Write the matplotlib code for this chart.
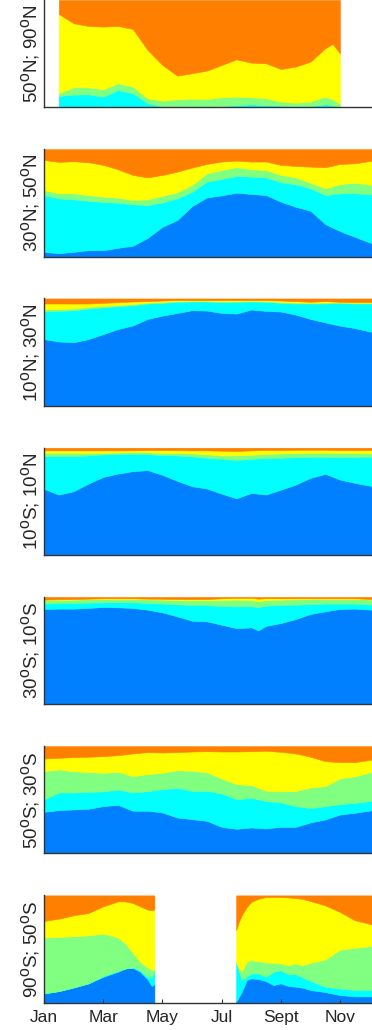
import numpy as np
import matplotlib
matplotlib.use("Agg")
import matplotlib.pyplot as plt

try:
    import matplotlib._mathtext as _mt
    _mt.SHRINK_FACTOR = 0.85  # larger superscript "o" as in the original
except Exception:
    pass

plt.rcParams['font.family'] = ['Liberation Sans', 'DejaVu Sans']
plt.rcParams['mathtext.fontset'] = 'custom'
plt.rcParams['mathtext.rm'] = 'Liberation Sans'
plt.rcParams['mathtext.it'] = 'Liberation Sans'

# ---------------- data (percent share of each class, stacked bottom->top) ----
MONTH_TICKS = [1, 3, 5, 7, 9, 11]
MONTH_LABELS = ['Jan', 'Mar', 'May', 'Jul', 'Sept', 'Nov']
CLASS_COLORS = ['#0080ff', '#00ffff', '#80ff80', '#ffff00', '#ff8000']
BAND_LABELS = [r'50$^{\rm o}$N; 90$^{\rm o}$N',
               r'30$^{\rm o}$N; 50$^{\rm o}$N',
               r'10$^{\rm o}$N; 30$^{\rm o}$N',
               r'10$^{\rm o}$S; 10$^{\rm o}$N',
               r'30$^{\rm o}$S; 10$^{\rm o}$S',
               r'50$^{\rm o}$S; 30$^{\rm o}$S',
               r'90$^{\rm o}$S; 50$^{\rm o}$S']

# 50N-90N
x_p1 = [1.5, 2, 2.5, 3, 3.5, 4, 4.5, 5, 5.5, 6, 6.5, 7, 7.5, 8, 8.5, 9, 9.5, 10, 10.5, 10.75, 11]
blue_p1 = [0, 0, 0, 0, 0, 0, 0, 0, 0, 0, 0, 0, 0, 0, 0, 0, 0, 0, 0, 0, 0]
cyan_p1 = [10.6, 11.8, 12.1, 9.9, 16.1, 13.0, 3.7, 0.9, 0.6, 0.6, 0.6, 1.2, 1.9, 2.8, 1.9, 1.6, 1.2, 1.2, 2.8, 1.9, 0.6]
green_p1 = [2.4, 6.8, 6.5, 6.9, 6.3, 6.3, 4.7, 5.3, 6.9, 7.5, 7.2, 8.1, 8.0, 6.5, 6.5, 3.7, 3.1, 4.1, 7.1, 5.6, 2.5]
yellow_p1 = [74.0, 59.7, 57.2, 58.4, 53.4, 53.7, 45.0, 33.2, 22.0, 23.6, 26.4, 30.1, 34.8, 32.3, 32.6, 30.4, 33.6, 37.2, 45.1, 51.5, 47.2]
orange_p1 = [13.0, 21.7, 24.2, 24.8, 24.2, 27.0, 46.6, 60.6, 70.5, 68.3, 65.8, 60.6, 55.3, 58.4, 59.0, 64.3, 62.1, 57.5, 45.0, 41.0, 49.7]

# common half-month grid (last reading at right edge of view)
x_grid = [1, 1.5, 2, 2.5, 3, 3.5, 4, 4.5, 5, 5.5, 6, 6.5, 7, 7.5, 8, 8.5, 9, 9.5, 10, 10.5, 11, 11.5, 12.1]

# 30N-50N
blue_p2 = [4.4, 3.1, 4.4, 5.9, 5.9, 8.1, 10.0, 17.4, 27.7, 34.0, 47.0, 55.1, 57.0, 59.5, 58.3, 57.3, 51.1, 46.4, 42.7, 30.2, 23.7, 18.4, 12.1]
cyan_p2 = [52.9, 51.1, 48.9, 46.1, 44.9, 42.1, 38.6, 30.6, 22.8, 20.2, 13.4, 14.7, 15.3, 15.6, 16.2, 16.5, 18.1, 20.9, 20.9, 27.1, 35.2, 40.5, 45.8]
green_p2 = [4.7, 4.7, 5.6, 5.3, 5.0, 4.6, 4.0, 5.3, 6.2, 5.6, 6.3, 7.8, 8.4, 8.1, 6.8, 6.9, 6.8, 6.5, 5.2, 6.3, 8.7, 9.9, 8.8]
yellow_p2 = [28.0, 29.3, 29.9, 30.6, 29.6, 26.5, 23.4, 20.5, 19.3, 19.3, 16.2, 8.7, 7.8, 6.2, 7.2, 7.8, 9.4, 10.6, 15.0, 19.6, 18.7, 18.1, 22.7]
orange_p2 = [10.0, 11.8, 11.2, 12.1, 14.6, 18.7, 24.0, 26.2, 24.0, 20.9, 17.1, 13.7, 11.5, 10.6, 11.5, 11.5, 14.6, 15.6, 16.2, 16.8, 13.7, 13.1, 10.6]

# 10N-30N
blue_p3 = [62.1, 59.9, 59.2, 62.1, 66.8, 71.5, 74.9, 80.9, 84.0, 86.5, 89.0, 88.7, 86.5, 85.9, 89.7, 88.4, 87.8, 85.0, 80.9, 77.7, 74.6, 72.4, 68.7]
cyan_p3 = [26.0, 28.5, 29.8, 28.5, 25.0, 21.3, 18.8, 14.4, 11.9, 10.4, 8.2, 8.5, 10.1, 11.0, 7.5, 8.5, 8.1, 10.3, 14.4, 17.6, 21.3, 22.9, 26.6]
green_p3 = [1.6, 1.6, 1.6, 1.5, 1.3, 1.2, 1.1, 0.9, 0.9, 0.7, 0.6, 0.6, 0.8, 0.7, 0.6, 0.7, 0.9, 0.9, 0.7, 0.9, 0.5, 0.6, 0.6]
yellow_p3 = [5.6, 5.3, 4.7, 3.2, 2.8, 2.6, 2.4, 1.3, 1.3, 0.8, 0.6, 0.6, 1.0, 0.8, 0.6, 0.8, 1.3, 1.3, 0.9, 1.3, 0.5, 0.7, 0.7]
orange_p3 = [4.7, 4.7, 4.7, 4.7, 4.1, 3.4, 2.8, 2.5, 1.9, 1.6, 1.6, 1.6, 1.6, 1.6, 1.6, 1.6, 1.9, 2.5, 3.1, 2.5, 3.1, 3.4, 3.4]

# 10S-10N
blue_p4 = [61.6, 56.3, 59.4, 66.6, 72.8, 75.9, 78.1, 79.1, 74.7, 69.1, 64.1, 61.9, 57.2, 52.8, 57.8, 56.3, 60.9, 65.6, 71.9, 75.6, 70.3, 67.2, 64.1]
cyan_p4 = [30.6, 35.9, 32.8, 26.2, 21.0, 18.2, 16.3, 15.0, 18.4, 23.7, 27.8, 28.7, 32.5, 35.6, 31.9, 34.0, 29.7, 25.7, 19.7, 16.0, 21.0, 24.4, 27.5]
green_p4 = [3.1, 3.1, 3.1, 2.5, 1.5, 1.5, 1.5, 1.5, 2.2, 2.2, 2.8, 3.2, 3.1, 4.4, 3.7, 3.8, 4.1, 3.7, 3.7, 3.7, 4.0, 3.4, 3.1]
yellow_p4 = [2.2, 2.2, 2.2, 2.2, 2.2, 1.9, 1.6, 2.2, 2.5, 2.8, 2.8, 3.7, 4.4, 4.1, 4.1, 3.7, 3.1, 3.1, 2.8, 2.8, 2.5, 2.8, 3.1]
orange_p4 = [2.5, 2.5, 2.5, 2.5, 2.5, 2.5, 2.5, 2.2, 2.2, 2.2, 2.5, 2.5, 2.8, 3.1, 2.5, 2.2, 2.2, 1.9, 1.9, 1.9, 2.2, 2.2, 2.2]

# 30S-10S
x_p5 = [1, 1.5, 2, 2.5, 3, 3.5, 4, 4.5, 5, 5.5, 6, 6.5, 7, 7.5, 8, 8.24, 8.5, 9, 9.5, 10, 10.5, 11, 11.5, 12.1]
blue_p5 = [88.8, 89.1, 89.1, 89.7, 90.6, 90.3, 89.7, 88.1, 85.6, 81.9, 77.8, 77.2, 74.1, 70.9, 71.6, 68.8, 73.1, 75.6, 79.4, 84.1, 86.6, 88.8, 89.1, 88.1]
cyan_p5 = [5.0, 5.3, 5.3, 5.0, 4.4, 4.7, 5.3, 6.3, 8.2, 11.2, 14.7, 15.0, 17.5, 20.4, 19.7, 21.8, 18.8, 16.9, 13.4, 9.3, 7.2, 5.0, 4.7, 4.7]
green_p5 = [3.1, 2.8, 3.1, 3.1, 3.1, 3.1, 3.1, 3.4, 3.7, 4.1, 4.4, 4.7, 5.6, 6.2, 5.9, 5.3, 5.3, 5.0, 5.0, 4.7, 4.3, 4.3, 4.3, 4.7]
yellow_p5 = [0.6, 0.6, 0.6, 0.6, 0.6, 0.6, 0.6, 0.6, 0.8, 0.9, 1.0, 1.2, 1.5, 1.6, 1.9, 2.5, 1.6, 1.2, 0.9, 0.6, 0.6, 0.6, 0.6, 0.6]
orange_p5 = [2.5, 2.2, 1.9, 1.6, 1.3, 1.3, 1.3, 1.6, 1.7, 1.9, 2.1, 1.9, 1.3, 0.9, 0.9, 1.6, 1.2, 1.3, 1.3, 1.3, 1.3, 1.3, 1.3, 1.9]

# 50S-30S
blue_p6 = [38.8, 40.4, 41.0, 41.6, 44.1, 45.3, 39.8, 39.8, 38.2, 33.5, 32.0, 30.4, 24.8, 23.0, 24.2, 23.3, 24.8, 24.8, 28.9, 31.7, 36.3, 37.9, 40.4]
cyan_p6 = [11.5, 16.4, 15.8, 15.9, 13.7, 14.3, 17.0, 18.3, 21.7, 27.7, 26.4, 28.0, 31.1, 27.6, 27.7, 25.5, 22.7, 19.3, 13.3, 12.4, 9.7, 9.3, 8.7]
green_p6 = [26.4, 21.5, 19.9, 18.3, 17.4, 16.5, 15.2, 15.8, 15.3, 16.4, 18.6, 17.1, 14.0, 14.0, 11.8, 9.6, 10.6, 14.0, 19.3, 18.6, 23.9, 24.8, 27.0]
yellow_p6 = [11.8, 10.8, 13.1, 14.3, 15.5, 15.5, 21.2, 20.5, 18.9, 16.8, 18.0, 19.8, 25.1, 30.4, 31.6, 37.3, 36.6, 35.1, 28.6, 23.3, 15.2, 13.1, 11.5]
orange_p6 = [11.5, 10.9, 10.2, 9.9, 9.3, 8.4, 6.8, 5.6, 5.9, 5.6, 5.0, 4.7, 5.0, 5.0, 4.7, 4.3, 5.3, 6.8, 9.9, 14.0, 14.9, 14.9, 12.4]

# 90S-50S (no data during polar night)
x_p7a = [1, 1.5, 2, 2.5, 3, 3.5, 3.75, 4, 4.25, 4.5, 4.64, 4.73]
blue_p7a = [8.7, 10.8, 14.2, 18.0, 24.1, 28.8, 31.9, 32.5, 28.8, 21.7, 15.5, 17.3]
cyan_p7a = [0, 0, 0, 0, 0.7, 0.9, 0, 0.3, 1.5, 2.4, 8.6, 12.4]
green_p7a = [52.0, 50.5, 47.7, 44.8, 39.6, 31.0, 23.2, 13.6, 7.8, 8.7, 6.9, 0.6]
yellow_p7a = [15.5, 17.0, 19.5, 20.8, 25.4, 33.7, 39.3, 46.5, 51.7, 53.9, 55.1, 56.7]
orange_p7a = [23.8, 21.7, 18.6, 16.4, 10.2, 5.6, 5.6, 7.1, 10.2, 13.3, 13.9, 13.0]

x_p7b = [7.49, 7.58, 7.68, 7.85, 8, 8.25, 8.5, 8.75, 9, 9.25, 9.5, 9.75, 10, 10.5, 11, 11.5, 12.1]
blue_p7b = [0.9, 5.0, 10.2, 21.1, 22.6, 22.0, 20.1, 16.4, 18.0, 15.5, 14.9, 13.9, 11.8, 9.9, 7.1, 5.9, 5.9]
cyan_p7b = [37.2, 25.3, 10.9, 3.0, 4.6, 5.2, 4.0, 12.4, 12.3, 10.8, 11.7, 9.6, 8.6, 5.0, 6.2, 5.9, 5.9]
green_p7b = [0, 1.6, 7.7, 14.0, 12.4, 11.5, 13.4, 8.4, 6.2, 8.7, 9.9, 11.5, 16.8, 25.3, 36.2, 39.3, 41.1]
yellow_p7b = [29.4, 43.3, 52.6, 51.1, 54.2, 58.2, 61.0, 61.3, 62.0, 63.1, 61.0, 61.6, 57.5, 50.5, 35.0, 25.7, 19.9]
orange_p7b = [32.5, 24.8, 18.6, 10.8, 6.2, 3.1, 1.5, 1.5, 1.5, 1.9, 2.5, 3.4, 5.3, 9.3, 15.5, 23.2, 27.2]

panels = [
    [(x_p1, [blue_p1, cyan_p1, green_p1, yellow_p1, orange_p1])],
    [(x_grid, [blue_p2, cyan_p2, green_p2, yellow_p2, orange_p2])],
    [(x_grid, [blue_p3, cyan_p3, green_p3, yellow_p3, orange_p3])],
    [(x_grid, [blue_p4, cyan_p4, green_p4, yellow_p4, orange_p4])],
    [(x_p5, [blue_p5, cyan_p5, green_p5, yellow_p5, orange_p5])],
    [(x_grid, [blue_p6, cyan_p6, green_p6, yellow_p6, orange_p6])],
    [(x_p7a, [blue_p7a, cyan_p7a, green_p7a, yellow_p7a, orange_p7a]),
     (x_p7b, [blue_p7b, cyan_p7b, green_p7b, yellow_p7b, orange_p7b])],
]

# ---------------- figure ----------------
W, H = 372, 1030
fig = plt.figure(figsize=(W / 100, H / 100), dpi=100)

left_px, axw_px = 44, 355.2
axh_px = 107.3
first_bottom_px, step_px = 107.3, 149.23
text_col = '#262626'

for i, segs in enumerate(panels):
    bottom_px = first_bottom_px + step_px * i
    ax = fig.add_axes([left_px / W, 1 - bottom_px / H, axw_px / W, axh_px / H])
    for xs, layers in segs:
        ax.stackplot(xs, *layers, colors=CLASS_COLORS,
                     edgecolor='face', linewidth=0.4)
    ax.set_xlim(1, 13)
    ax.set_ylim(0, 100)
    ax.set_yticks([])
    for s in ('top', 'right'):
        ax.spines[s].set_visible(False)
    for s in ('left', 'bottom'):
        ax.spines[s].set_color('#333333')
        ax.spines[s].set_linewidth(1.0)
    if i == len(panels) - 1:
        ax.set_xticks(MONTH_TICKS)
        ax.set_xticklabels(MONTH_LABELS)
        ax.tick_params(axis='x', direction='in', length=3, width=0.8,
                       color='#333333', labelsize=12.5, labelcolor=text_col, pad=5)
    else:
        ax.set_xticks([])
    fig.text(31 / W, 1 - (bottom_px - axh_px / 2) / H, BAND_LABELS[i],
             rotation=90, ha='center', va='center', fontsize=13.5, color=text_col)

fig.savefig('out.png', dpi=100)
